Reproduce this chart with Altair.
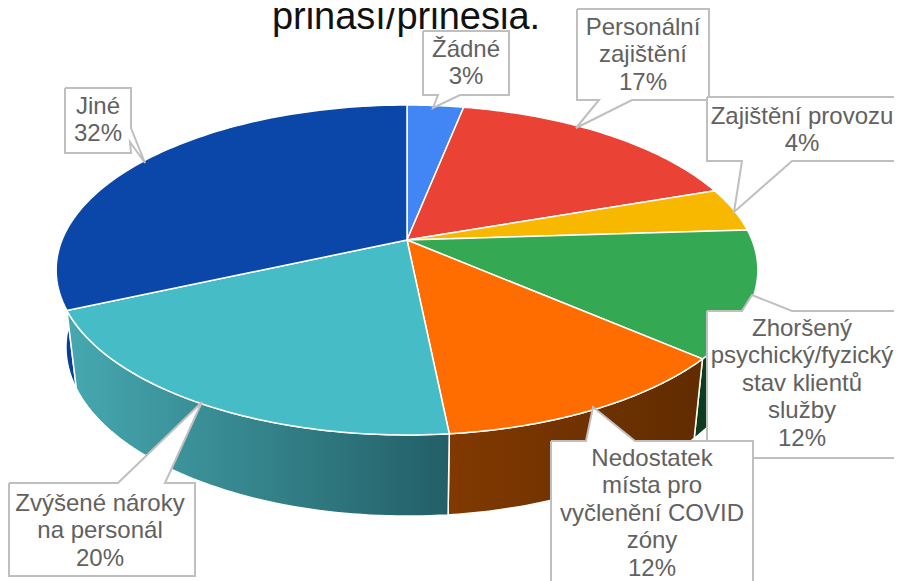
import numpy as np
import pandas as pd
import altair as alt

# ---- data ----
categories = ["Žádné", "Personální\nzajištění", "Zajištění provozu",
              "Zhoršený\npsychický/fyzický\nstav klientů\nslužby",
              "Nedostatek\nmísta pro\nvyčlenění COVID\nzóny",
              "Zvýšené nároky\nna personál", "Jiné"]
values = [3.1, 16.6, 4.3, 12.4, 12.0, 19.9, 31.7]
percent_labels = ["3%", "17%", "4%", "12%", "12%", "20%", "32%"]
title_line = "přináší/přinesla."

# ---- styles ----
top_colors = ["#4285F4", "#EA4335", "#F9B800", "#34A853", "#FF6D01", "#46BDC6", "#0B47A8"]
wall_grad = {
    3: ("#0E4A28", "#0C3A1E"),
    4: ("#813900", "#612C00"),
    5: ("#46A8B0", "#235F67"),
    6: ("#0A3F9C", "#0A3A8E"),
}
# ---- layout (page pixels) ----
CX, CY, RX, RY, K = 407.0, 240.0, 345.0, 159.5, 0.1818
SHRINK, SHRINK_Y, DEPTH = 0.972, 1.024, 76.5
callouts = [
    [(423, 31), (509, 31), (509, 95), (460, 95), (433, 108), (438, 95), (423, 95)],
    [(577, 9), (709, 9), (709, 100), (632, 100), (576, 128), (599, 100), (577, 100)],
    [(707, 97), (915, 97), (915, 161), (792, 161), (734, 212), (742, 161), (707, 161)],
    [(707, 311), (742, 311), (752, 295), (792, 311), (915, 311), (915, 458), (707, 458)],
    [(551, 441), (586, 441), (593, 407), (635, 441), (753, 441), (753, 600), (551, 600)],
    [(9, 483), (118, 483), (202, 402), (165, 483), (195, 483), (195, 576), (9, 576)],
    [(65, 88), (131, 88), (131, 128), (145, 163), (130, 142), (131, 153), (65, 153)],
]
label_x = [466, 643, 802, 802, 652, 100, 98]
label_y0 = [50, 28, 117, 329, 459, 504, 107]
LINE = 27.4

x_scale = alt.Scale(domain=[8, 894], range=[0, 886], nice=False, zero=False)
y_scale = alt.Scale(domain=[8, 581], range=[0, 573], nice=False, zero=False)


def project(theta):
    u, v = np.sin(theta), np.cos(theta)
    w = 1 + K * v
    return CX + RX * u / w, CY - RY * v / w


def bottom(x, y):
    return CX + SHRINK * (x - CX), CY + DEPTH + SHRINK_Y * (y - CY)


def poly(xs, ys, fill, stroke="white", sw=1.5):
    df = pd.DataFrame({"px": xs, "py": ys, "i": range(len(xs))})
    return alt.Chart(df).mark_line(
        fill=fill, stroke=stroke, strokeWidth=sw, strokeJoin="miter", clip=False, interpolate="linear"
    ).encode(
        x=alt.X("px:Q", scale=x_scale, axis=None),
        y=alt.Y("py:Q", scale=y_scale, axis=None),
        order="i:Q",
    )


edges = np.cumsum([0] + values) / sum(values) * 2 * np.pi

layers = []
# side walls (covered by the top faces where they are not visible)
wall_ranges = {3: (edges[3] - 0.35, edges[4]), 4: (edges[4], edges[5]), 5: (edges[5], edges[6]),
               6: (edges[6], edges[6] + 0.45)}
for idx in [6, 3, 4, 5]:
    a, b = wall_ranges[idx]
    t = np.linspace(a, b, 60)
    x1, y1 = project(t)
    x2, y2 = bottom(x1, y1)
    xs = list(x1) + list(x2[::-1]) + [x1[0]]
    ys = list(y1) + list(y2[::-1]) + [y1[0]]
    c0, c1 = wall_grad[idx]
    if idx in (3, 6):
        c0, c1 = c1, c0
    grad = alt.LinearGradient(gradient="linear", x1=0, x2=1, y1=0, y2=0,
                              stops=[alt.GradientStop(color=c0, offset=0),
                                     alt.GradientStop(color=c1, offset=1)])
    layers.append(poly(xs, ys, grad))

# top faces
for i, col in enumerate(top_colors):
    t = np.linspace(edges[i], edges[i + 1], 80)
    x1, y1 = project(t)
    xs = [CX] + list(x1) + [CX]
    ys = [CY] + list(y1) + [CY]
    layers.append(poly(xs, ys, col))

# callouts
for pts in callouts:
    closed = list(pts) + [pts[0]]
    layers.append(poly([p[0] for p in closed], [p[1] for p in closed], "white", "#BFBFBF", 2))

# label text
rows = []
for c, p, lx, ly in zip(categories, percent_labels, label_x, label_y0):
    for j, line in enumerate(c.split("\n") + [p]):
        rows.append({"t": line, "px": lx, "py": ly + j * LINE})
layers.append(
    alt.Chart(pd.DataFrame(rows)).mark_text(
        font="Liberation Sans", fontSize=24, color="#616161", align="center", baseline="middle"
    ).encode(
        x=alt.X("px:Q", scale=x_scale, axis=None),
        y=alt.Y("py:Q", scale=y_scale, axis=None),
        text="t:N",
    )
)
# title
layers.append(
    alt.Chart(pd.DataFrame({"t": [title_line], "px": [406], "py": [29]})).mark_text(
        font="Liberation Sans", fontSize=38, color="#111111", align="center", baseline="alphabetic"
    ).encode(
        x=alt.X("px:Q", scale=x_scale, axis=None),
        y=alt.Y("py:Q", scale=y_scale, axis=None),
        text="t:N",
    )
)

chart = alt.layer(*layers).properties(
    width=886, height=573, padding=0, autosize=alt.AutoSizeParams(type="none"),
    background="white",
).configure_view(stroke=None)

chart.save("out.html", embed_options={"renderer": "svg", "actions": False})
